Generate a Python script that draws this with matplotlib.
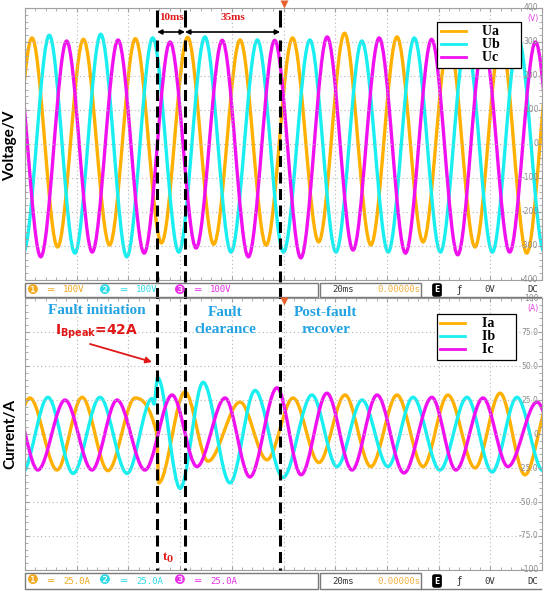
import numpy as np
import matplotlib
matplotlib.use("Agg")
import matplotlib.pyplot as plt
from matplotlib.path import Path
from matplotlib.patches import PathPatch, Rectangle
from matplotlib.lines import Line2D
from matplotlib.ticker import MultipleLocator

# --- waveform key points (time in ms, trigger at 0) ---
UA_T = [-107.3, -97.3, -87.4, -77.4, -67.3, -57.3, -47.2, -37.1, -27.0, -16.8, -6.7,
        3.5, 13.6, 23.6, 33.8, 43.9, 54.0, 64.0, 74.1, 84.1, 94.1, 104.2]
UA_V = [-300, 312, -303, 308, -297, 310, -291, 314, -295, 306, -298,
        312, -288, 326, -297, 315, -288, 310, -303, 312, -321, 308]

UB_T = [-110.7, -100.6, -90.6, -80.7, -70.7, -60.6, -50.6, -40.5, -30.4, -20.3, -10.1,
        0.0, 10.2, 20.3, 30.3, 40.5, 50.6, 60.7, 70.7, 80.8, 90.8, 100.8, 110.9]
UB_V = [315, -318, 320, -321, 323, -332, 312, -318, 315, -318, 306,
        -318, 306, -318, 303, -318, 312, -318, 310, -318, 312, -316, 314]

UC_T = [-113.9, -103.9, -93.9, -83.9, -74.0, -64.0, -53.9, -43.9, -33.8, -23.7, -13.6,
        -3.4, 6.7, 16.9, 26.9, 37.0, 47.2, 57.3, 67.4, 77.4, 87.5, 97.5, 107.5]
UC_V = [-320, 300, -332, 303, -318, 306, -321, 300, -306, 305, -332,
        305, -335, 315, -312, 312, -321, 308, -326, 304, -318, 300, -320]

IA_T = [-108.1, -98.1, -87.6, -77.9, -67.9, -57.4, -49.0, -48.3, -38.1, -29.2, -16.8,
        -6.4, 3.7, 13.7, 23.8, 33.8, 43.9, 54.0, 63.6, 74.1, 83.8, 93.4, 103.5]
IA_V = [-26, 26.5, -26.5, 27, -27, 26.5, 0, -36, 31, -20, 23.5,
        -19, 26.5, -21, 28.7, -24, 28.7, -24, 28.7, -25, 30, -30, 27]

IB_T = [-101.2, -91.1, -81.4, -71.0, -60.5, -50.9, -50.1, -48.7, -40.0, -31.1, -20.7,
        -11.0, -0.2, 11.0, 20.7, 30.4, 40.4, 50.1, 60.5, 71.0, 80.7, 90.3, 100.4, 110.5]
IB_V = [-29, 27, -29, 27, -29, 26, 22, 41.5, -40, 38, -36,
        32, -32, 28.7, -24, 25, -24, 27, -26.5, 27, -28, 27, -27, 27]

IC_T = [-104.6, -95.0, -84.5, -74.1, -64.4, -53.6, -43.1, -33.5, -22.6, -13.0, -2.5,
        6.8, 16.8, 26.5, 36.2, 46.6, 57.4, 66.7, 77.2, 86.8, 98.1, 108.0]
IC_V = [25, -26.5, 25, -26.5, 25, -26.5, 28.7, -24, 26.5, -31.6, 34,
        -30, 30, -26.5, 28.7, -28.7, 27, -26.5, 26.5, -24, 23.5, -26]

FAULT_T = [-48.9, -38.1, -1.3]          # fault start, clearance, recovery
SPAN_LABELS = ["10ms", "35ms"]

U_NAMES = ["Ua", "Ub", "Uc"]
I_NAMES = ["Ia", "Ib", "Ic"]
COLORS = ["#FFB000", "#19EEF0", "#F010F0"]
TEXT_COLORS = ["#F2A81C", "#2EDAE8", "#E830E8"]

U_TICKS = [400, 300, 200, 100, 0, -100, -200, -300, -400]
I_TICKS = [100, 75, 50, 25, 0, -25, -50, -75, -100]
I_TICK_LABELS = ["100", "75.0", "50.0", "25.0", "0", "-25.0", "-50.0", "-75.0", "-100"]

W, H = 550, 597
L, R = 25, 542
fig = plt.figure(figsize=(W / 100, H / 100), dpi=100)


def fx(p):
    return p / W


def fy(p):
    return 1 - p / H


def wave_path(t, v):
    # monotone cubic through the read key points, drawn as bezier segments
    t = np.asarray(t, float)
    v = np.asarray(v, float)
    h = np.diff(t)
    d = np.diff(v) / h
    m = np.zeros_like(v)
    for i in range(1, len(v) - 1):
        if d[i - 1] * d[i] > 0:
            w1 = 2 * h[i] + h[i - 1]
            w2 = h[i] + 2 * h[i - 1]
            m[i] = (w1 + w2) / (w1 / d[i - 1] + w2 / d[i])
    verts = [(t[0], v[0])]
    codes = [Path.MOVETO]
    for i in range(len(v) - 1):
        verts += [(t[i] + h[i] / 3, v[i] + m[i] * h[i] / 3),
                  (t[i + 1] - h[i] / 3, v[i + 1] - m[i + 1] * h[i] / 3),
                  (t[i + 1], v[i + 1])]
        codes += [Path.CURVE4] * 3
    return Path(verts, codes)


def scope_axes(rect, ticks, labels, unit):
    ax = fig.add_axes(rect)
    ax.set_xlim(-100, 100)
    ax.set_ylim(ticks[-1], ticks[0])
    ax.set_xticks(np.linspace(-100, 100, 11))
    ax.set_yticks(ticks)
    ax.xaxis.set_minor_locator(MultipleLocator(4))
    ax.yaxis.set_minor_locator(MultipleLocator((ticks[0] - ticks[1]) / 5))
    ax.grid(True, which="major", color="#b5b5b5", ls=(0, (1, 2.5)), lw=0.8)
    ax.tick_params(which="both", direction="in", color="#a0a0a0",
                   labelbottom=False, labelleft=False,
                   top=True, right=True)
    ax.tick_params(which="major", length=3)
    ax.tick_params(which="minor", length=2)
    for s in ax.spines.values():
        s.set_color("#a0a0a0")
        s.set_linewidth(0.8)
    tr = ax.get_yaxis_transform()
    for val, lab in zip(ticks, labels):
        ax.text(0.993, val, lab, transform=tr, ha="right", va="center",
                fontsize=5.5, color="#8c8c8c")
    ax.text(0.993, ticks[0] - (ticks[0] - ticks[1]) * 0.3, unit, transform=tr,
            ha="right", va="center", fontsize=5.5, color="#E040E0")
    return ax


ax_u = scope_axes([fx(L), fy(280), fx(R - L), (280 - 8) / H],
                  U_TICKS, [str(v) for v in U_TICKS], "(V)")
ax_i = scope_axes([fx(L), fy(570), fx(R - L), (570 - 298) / H],
                  I_TICKS, I_TICK_LABELS, "(A)")

for ax, series in [(ax_u, [(UA_T, UA_V), (UB_T, UB_V), (UC_T, UC_V)]),
                   (ax_i, [(IA_T, IA_V), (IB_T, IB_V), (IC_T, IC_V)])]:
    for (t, v), c in zip(series, COLORS):
        ax.add_patch(PathPatch(wave_path(t, v), fill=False, ec=c, lw=2.4,
                               joinstyle="round", capstyle="round"))

leg_kw = dict(loc="upper right", frameon=True, fancybox=False, framealpha=1,
              edgecolor="black", borderpad=0.25, labelspacing=0.0,
              handlelength=1.8, handletextpad=1.2,
              prop=dict(family="Liberation Serif", weight="bold", size=10))
handles = [Line2D([], [], color=c, lw=2) for c in COLORS]
lg = ax_u.legend(handles, [n + "     " for n in U_NAMES],
                 bbox_to_anchor=((528 - L) / (R - L), (280 - 15) / 272), **leg_kw)
lg.get_frame().set_linewidth(0.9)
lg = ax_i.legend(handles, [n + "     " for n in I_NAMES],
                 bbox_to_anchor=((523 - L) / (R - L), (570 - 307) / 272), **leg_kw)
lg.get_frame().set_linewidth(0.9)

# overlay in (time, pixel row) for the fault markers
ov = fig.add_axes([fx(L), 0, fx(R - L), 1], zorder=10)
ov.set_xlim(-100, 100)
ov.set_ylim(H, 0)
ov.axis("off")
ov.patch.set_alpha(0)
ov.vlines(FAULT_T, 10, 27, colors="k", lw=2.2)
ov.vlines(FAULT_T, 40, 570, colors="k", lw=2.2, linestyles=(0, (3.6, 1.8)))
for a, b, lab in zip(FAULT_T[:-1], FAULT_T[1:], SPAN_LABELS):
    ov.annotate("", xy=(b, 32), xytext=(a, 32),
                arrowprops=dict(arrowstyle="<|-|>", color="k", lw=1.2,
                                mutation_scale=7, shrinkA=0, shrinkB=0))
    ov.text((a + b) / 2, 18, lab, ha="center", va="center", color="#E01818",
            fontsize=8, fontweight="bold", family="Liberation Serif")

# overlay in pixels for the scope status bars and notes
px = fig.add_axes([0, 0, 1, 1], zorder=11)
px.set_xlim(0, W)
px.set_ylim(H, 0)
px.axis("off")
px.patch.set_alpha(0)


def status_bar(y0, y1, scale):
    ym = (y0 + y1) / 2
    px.add_patch(Rectangle((25, y0), 293, y1 - y0, fill=False, ec="#7a7a7a", lw=1))
    px.add_patch(Rectangle((320, y0), 101, y1 - y0, fill=False, ec="#7a7a7a", lw=1))
    px.plot([421, 541], [y1, y1], color="#7a7a7a", lw=1)
    for k, (xc, col) in enumerate(zip([32, 105, 179], TEXT_COLORS)):
        px.text(xc, ym, "❶❷❸"[k], color=col, ha="center", va="center",
                fontsize=9.5, family="DejaVu Sans")
        px.text(xc + 18, ym, "═", color=col, ha="center", va="center",
                fontsize=7.5, family="DejaVu Sans Mono")
        px.text(xc + 31, ym, scale, color=col, ha="left", va="center",
                fontsize=6.5, family="DejaVu Sans Mono")
    px.text(332, ym, "20ms", ha="left", va="center", fontsize=6.5,
            family="DejaVu Sans Mono", color="#333333")
    px.text(377, ym, "0.00000s", ha="left", va="center", fontsize=6.5,
            family="DejaVu Sans Mono", color="#F2B040")
    px.text(437, ym, "E", ha="center", va="center", fontsize=5.5, color="white",
            fontweight="bold",
            bbox=dict(boxstyle="round,pad=0.2", fc="black", ec="black"))
    px.text(460, ym, "ƒ", ha="center", va="center", fontsize=7.5, color="#333333")
    px.text(490, ym, "0V", ha="center", va="center", fontsize=6.5,
            family="DejaVu Sans Mono", color="#333333")
    px.text(533, ym, "DC", ha="center", va="center", fontsize=6.5,
            family="DejaVu Sans Mono", color="#333333")


status_bar(283, 297, "100V")
status_bar(573, 589, "25.0A")

for yy in [4, 301]:
    px.plot(283.5, yy, marker="v", color="#E8602C", ms=5.5, mec="none")

blue = "#23A3E3"
note_kw = dict(ha="center", va="center", color=blue, fontsize=11,
               fontweight="bold", family="Liberation Serif", linespacing=1.4)
px.text(97, 311, "Fault initiation", **note_kw)
px.text(225, 321, "Fault\nclearance", **note_kw)
px.text(326, 321, "Post-fault\nrecover", **note_kw)

px.text(55, 332, r"I$_{\mathbf{Bpeak}}$=42A", ha="left", va="center",
        color="#E01818", fontsize=10, fontweight="bold", family="DejaVu Sans")
px.annotate("", xy=(152, 362), xytext=(90, 344),
            arrowprops=dict(arrowstyle="-|>", color="#E01818", lw=1.3,
                            mutation_scale=9, shrinkA=0, shrinkB=0))
px.text(168, 558, r"t$_\mathbf{0}$", ha="center", va="center", color="#E01818",
        fontsize=9, fontweight="bold", family="Liberation Serif",
        math_fontfamily="dejavuserif")

fig.text(fx(10), fy(146), "Voltage/V", rotation=90, ha="center", va="center",
         fontsize=11, fontweight="bold", family="Lato")
fig.text(fx(10), fy(434), "Current/A", rotation=90, ha="center", va="center",
         fontsize=11, fontweight="bold", family="Lato")

fig.savefig("out.png", dpi=100)
